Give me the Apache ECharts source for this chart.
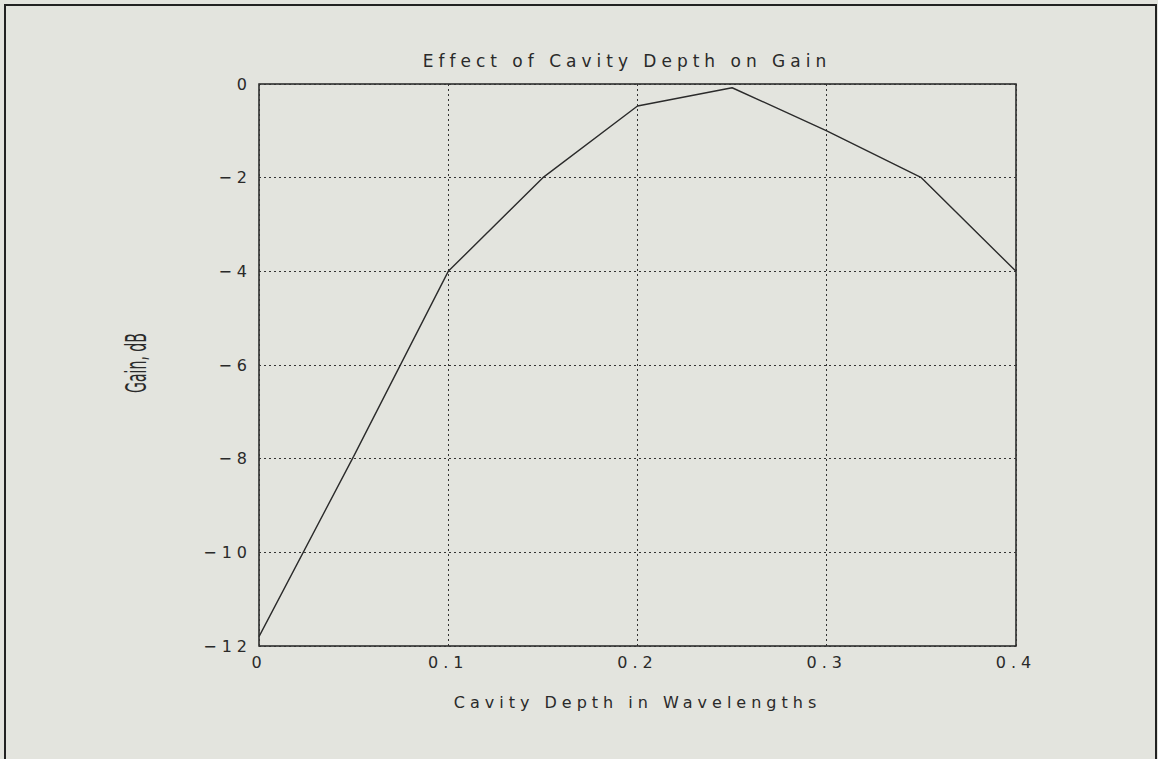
<!DOCTYPE html>
<html>
<head>
<meta charset="utf-8">
<script src="https://cdn.jsdelivr.net/npm/echarts@6/dist/echarts.min.js"></script>
<style>
  html, body { margin: 0; padding: 0; background: #e3e4de; }
  #chart { width: 1158px; height: 759px; }
  /* the old plotter font is very wide, spread the letters out */
  #chart text { letter-spacing: 5px; }
  #chart text[style*="Condensed"], #chart text[font-family*="Condensed"] { letter-spacing: 0; }
</style>
</head>
<body>
<div id="chart"></div>
<script>
// cavity depth (wavelengths) and gain (dB)
const depth = [0, 0.05, 0.1, 0.15, 0.2, 0.25, 0.3, 0.35, 0.4];
const gain = [-11.8, -7.95, -4, -2, -0.47, -0.08, -1.0, -2, -4];

const titleText = 'Effect of Cavity Depth on Gain';
const xName = 'Cavity Depth in Wavelengths';
const yName = 'Gain, dB';

const INK = '#2a2a2a';
const FONT = 'DejaVu Sans';

/**
 * y tick label: long minus sign for negatives
 */
const fmtY = v => v < 0 ? '\u2212' + (-v) : '0';
const fmtX = v => v === 0 ? '0' : v.toFixed(1);

const chart = echarts.init(document.getElementById('chart'), null, { renderer: 'svg' });

const option = {
  backgroundColor: '#e3e4de',
  animation: false,
  title: {
    text: titleText,
    left: 627,
    top: 52,
    padding: 0,
    textAlign: 'center',
    textStyle: { fontFamily: FONT, fontSize: 17, fontWeight: 'normal', color: INK }
  },
  grid: {
    left: 259, top: 84, right: 142, bottom: 113,
    show: true,
    borderColor: '#222',
    borderWidth: 1.5,
    backgroundColor: 'transparent'
  },
  xAxis: {
    type: 'value',
    min: 0, max: 0.4, interval: 0.1,
    name: xName,
    nameLocation: 'middle',
    nameGap: 48,
    nameTextStyle: { fontFamily: FONT, fontSize: 16, color: INK },
    axisLine: { show: false },
    axisTick: { show: false },
    axisLabel: { margin: 8, fontFamily: FONT, fontSize: 16, color: INK, formatter: fmtX },
    splitLine: { show: true, lineStyle: { color: '#333', width: 1, type: [2, 3] } }
  },
  yAxis: {
    type: 'value',
    min: -12, max: 0, interval: 2,
    axisLine: { show: false },
    axisTick: { show: false },
    axisLabel: { margin: 7, fontFamily: FONT, fontSize: 16, color: INK, formatter: fmtY },
    splitLine: { show: true, lineStyle: { color: '#333', width: 1, type: [2, 3] } }
  },
  graphic: [
    {
      type: 'rect', silent: true,
      shape: { x: 5, y: 5, width: 1151, height: 800 },
      style: { fill: 'none', stroke: '#222', lineWidth: 2 }
    },
    {
      type: 'text', silent: true,
      x: 136, y: 363,
      rotation: Math.PI / 2,
      scaleX: 0.56,
      style: {
        text: yName, fontFamily: 'DejaVu Sans Condensed', fontSize: 28,
        fill: INK, align: 'center', verticalAlign: 'middle'
      }
    }
  ],
  series: [{
    type: 'line',
    data: depth.map((d, i) => [d, gain[i]]),
    showSymbol: false,
    lineStyle: { color: '#2b2b2b', width: 1.4 }
  }]
};

chart.setOption(option);
</script>
</body>
</html>
